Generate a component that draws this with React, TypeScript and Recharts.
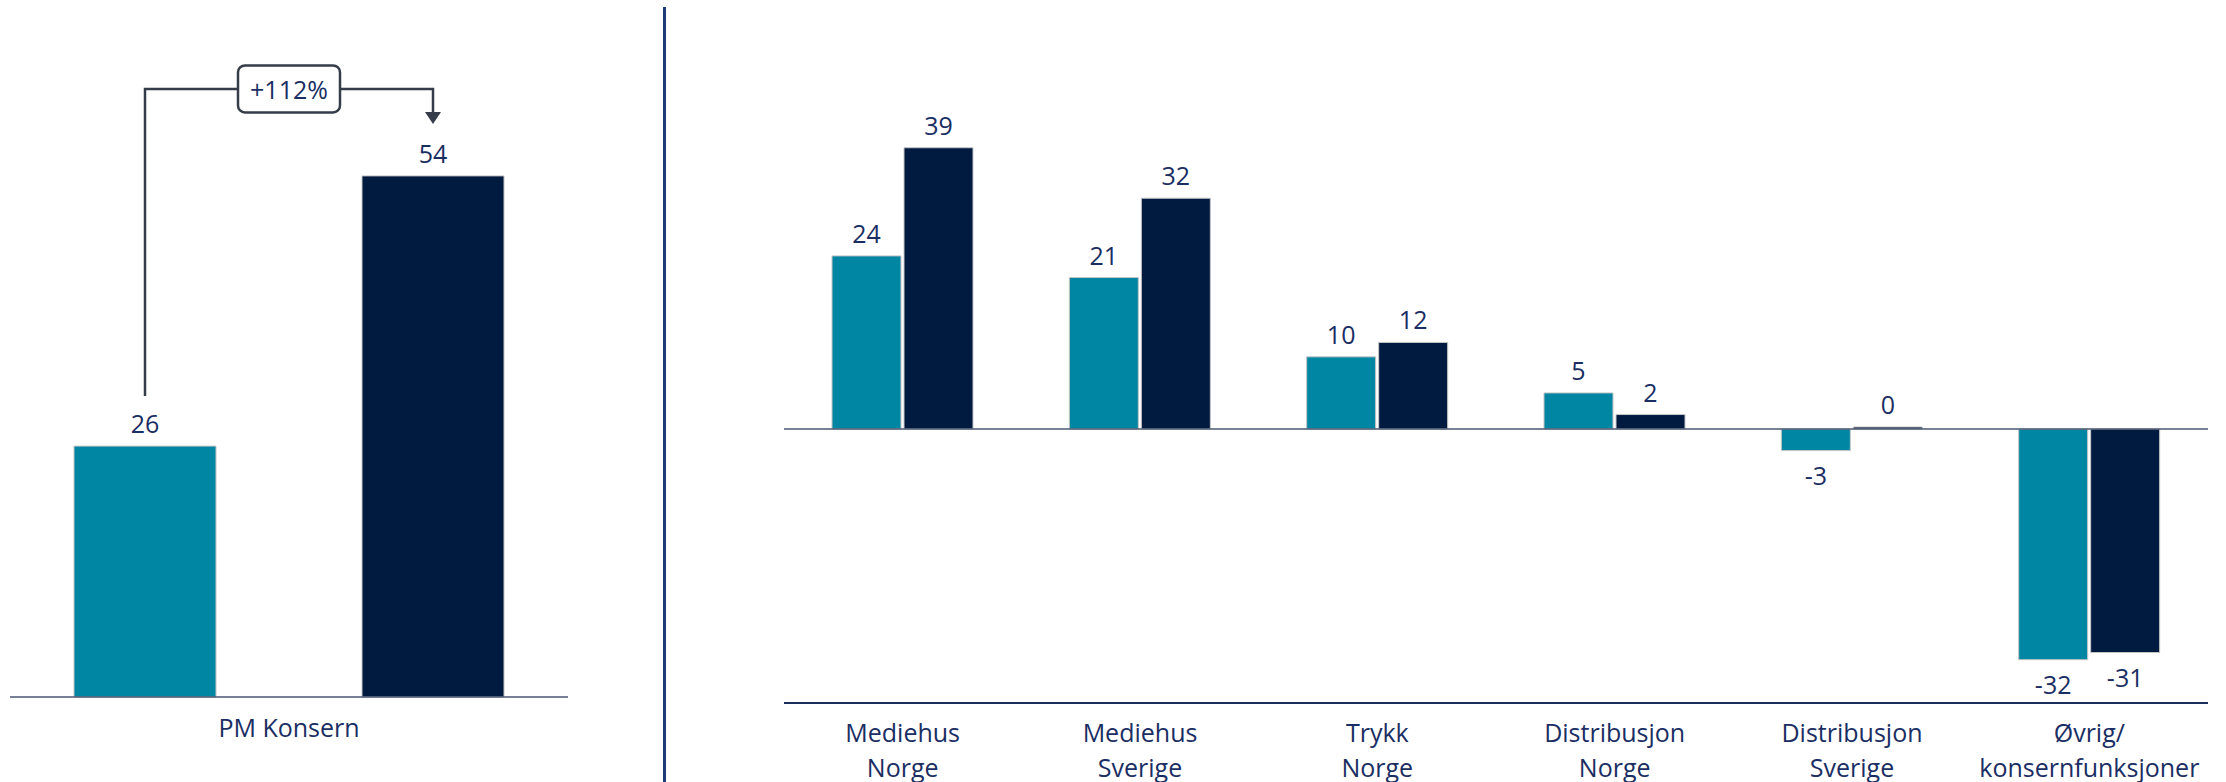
import React from 'react';
import { BarChart, Bar, XAxis, YAxis, ReferenceLine, LabelList } from 'recharts';

// segment breakdown (right panel)
const categories = ['Mediehus\nNorge', 'Mediehus\nSverige', 'Trykk\nNorge', 'Distribusjon\nNorge', 'Distribusjon\nSverige', 'Øvrig/\nkonsernfunksjoner'];
const prevValues = [24, 21, 10, 5, -3, -32];
const currValues = [39, 32, 12, 2, 0, -31];

// group total (left panel)
const totalCategory = ['PM Konsern'];
const totalPrev = [26];
const totalCurr = [54];
const changeLabel = '+112%';

const TEAL = '#0085a3';
const NAVY = '#001a40';
const TEXT = '#1a2e63';
const FONT = "'Open Sans', sans-serif";
const LEFT_GAP = 146;

const segmentData = categories.map((name, i) => ({ name, prev: prevValues[i], curr: currValues[i] }));
const totalData = totalCategory.map((name, i) => ({ name, prev: totalPrev[i], curr: totalCurr[i] }));

const ValueLabel = (props: any) => {
  const { x, y, width, height, value } = props;
  const top = Math.min(y, y + height);
  const bottom = Math.max(y, y + height);
  const ly = value >= 0 ? top - 23 : bottom + 24;
  return (
    <text x={x + width / 2} y={ly} textAnchor="middle" dominantBaseline="central" fill={TEXT} fontSize={25} fontFamily={FONT}>
      {value}
    </text>
  );
};

// label for the current-year total bar, plus the bracket arrow from the previous bar
const TotalLabel = (props: any) => {
  const { x, y, width, height, value } = props;
  const cx = x + width / 2;
  const top = Math.min(y, y + height);
  const base = Math.max(y, y + height);
  const perUnit = Math.abs(height) / value;
  const prevCx = cx - (width + LEFT_GAP);
  const prevTop = base - totalPrev[0] * perUnit;
  const bracketY = top - 87;
  const midX = (prevCx + cx) / 2;
  return (
    <g>
      <path d={`M${prevCx},${prevTop - 50} V${bracketY} H${cx} V${top - 63}`} fill="none" stroke="#353c4a" strokeWidth={2.5} />
      <path d={`M${cx - 8},${top - 64} L${cx + 8},${top - 64} L${cx},${top - 52} Z`} fill="#353c4a" />
      <rect x={midX - 51} y={bracketY - 23.5} width={102} height={47} rx={7} fill="#fff" stroke="#353c4a" strokeWidth={2.5} />
      <text x={midX} y={bracketY} textAnchor="middle" dominantBaseline="central" fill={TEXT} fontSize={25} fontFamily={FONT}>
        {changeLabel}
      </text>
      <text x={cx} y={top - 23} textAnchor="middle" dominantBaseline="central" fill={TEXT} fontSize={25} fontFamily={FONT}>
        {value}
      </text>
    </g>
  );
};

const CategoryTick = (props: any) => {
  const { x, y, payload, first } = props;
  const lines = String(payload.value).split('\n');
  return (
    <g>
      {lines.map((line, i) => (
        <text key={i} x={x} y={y + first + i * 35} textAnchor="middle" dominantBaseline="central" fill={TEXT} fontSize={25} fontFamily={FONT}>
          {line}
        </text>
      ))}
    </g>
  );
};

export default function App() {
  return (
    <div style={{ position: 'relative', width: 2226, height: 782, background: '#fff' }}>
      <style>{`body { margin: 0; }`}</style>
      <div style={{ position: 'absolute', left: 0, top: 0 }}>
        <BarChart width={664} height={782} data={totalData} margin={{ top: 118, right: 96, bottom: 0, left: 10 }} barSize={142} barGap={LEFT_GAP}>
          <XAxis dataKey="name" height={85} tickLine={false} tickSize={0} tickMargin={0} interval={0}
            axisLine={{ stroke: '#4a5670', strokeWidth: 1.5 }}
            tick={(p: any) => <CategoryTick {...p} first={30} />} />
          <YAxis hide domain={[0, 60]} />
          <Bar dataKey="prev" fill={TEAL} stroke="#c6c6c6" strokeWidth={1} isAnimationActive={false}>
            <LabelList dataKey="prev" content={ValueLabel} />
          </Bar>
          <Bar dataKey="curr" fill={NAVY} stroke="#c6c6c6" strokeWidth={1} isAnimationActive={false}>
            <LabelList dataKey="curr" content={TotalLabel} />
          </Bar>
        </BarChart>
      </div>
      <div style={{ position: 'absolute', left: 663, top: 7, width: 3, height: 775, background: '#1f3b78' }} />
      <div style={{ position: 'absolute', left: 664, top: 0 }}>
        <BarChart width={1562} height={782} data={segmentData} margin={{ top: 54, right: 18, bottom: 0, left: 120 }} barSize={69} barGap={3}>
          <XAxis dataKey="name" height={79} tickLine={false} tickSize={0} tickMargin={0} interval={0}
            axisLine={{ stroke: '#1b2d5a', strokeWidth: 2 }}
            tick={(p: any) => <CategoryTick {...p} first={29} />} />
          <YAxis hide domain={[-38, 52]} />
          <ReferenceLine y={0} stroke="#4a5a72" strokeWidth={1.5} />
          <Bar dataKey="prev" fill={TEAL} stroke="#c6c6c6" strokeWidth={1} minPointSize={2} isAnimationActive={false}>
            <LabelList dataKey="prev" content={ValueLabel} />
          </Bar>
          <Bar dataKey="curr" fill={NAVY} stroke="#c6c6c6" strokeWidth={1} minPointSize={2} isAnimationActive={false}>
            <LabelList dataKey="curr" content={ValueLabel} />
          </Bar>
        </BarChart>
      </div>
    </div>
  );
}
